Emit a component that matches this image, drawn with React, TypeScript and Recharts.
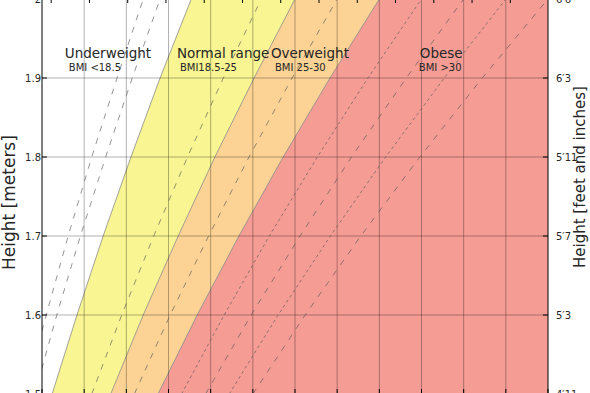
import {
  ComposedChart,
  XAxis,
  YAxis,
  Area,
  Line,
  CartesianGrid,
  ReferenceLine,
  ReferenceDot,
} from 'recharts';

const heights = [1.5, 1.6, 1.7, 1.8, 1.9, 2.0];

// weight in kg along each BMI line, one value per height above
const underweightEdge = [42.4, 48.3, 54.5, 61.1, 68.0, 75.4];
const normalEdge = [56.3, 64.0, 72.3, 81.0, 90.3, 100.0];
const overweightEdge = [67.5, 76.8, 86.7, 97.2, 108.3, 120.0];

const bmi16 = [36.0, 41.0, 46.2, 51.8, 57.8, 64.0];
const bmi17 = [38.3, 43.5, 49.1, 55.1, 61.4, 68.0];
const bmi23 = [51.8, 58.9, 66.5, 74.5, 83.0, 92.0];
const bmi275 = [61.9, 70.4, 79.5, 89.1, 99.3, 110.0];
const bmi325 = [73.1, 83.2, 93.9, 105.3, 117.3, 130.0];
const bmi35 = [78.8, 89.6, 101.2, 113.4, 126.4, 140.0];
const bmi375 = [84.4, 96.0, 108.4, 121.5, 135.4, 150.0];
const bmi40 = [90.0, 102.4, 115.6, 129.6, 144.4, 160.0];

const meterTicks = [1.5, 1.6, 1.7, 1.8, 1.9, 2.0];
const feetLabels = ["4′11", "5′3", "5′7", "5′11", "6′3", "6′6"];
const kgTicks = [40, 50, 60, 70, 80, 90, 100, 110, 120, 130, 140, 150, 160];
const lbTicks = [93, 113, 133, 153, 173, 193, 213, 233, 253, 273, 293, 313, 333];

const categories = ['Underweight', 'Normal range', 'Overweight', 'Obese'];
const categoryBmi = ['BMI <18.5', 'BMI18.5-25', 'BMI 25-30', 'BMI >30'];

const rows = heights.map((h, i) => ({
  h,
  under: underweightEdge[i],
  normal: normalEdge[i],
  over: overweightEdge[i],
  c16: bmi16[i],
  c17: bmi17[i],
  c23: bmi23[i],
  c275: bmi275[i],
  c325: bmi325[i],
  c35: bmi35[i],
  c375: bmi375[i],
  c40: bmi40[i],
}));

const font = 'DejaVu Sans';
const ink = '#262626';

// where each category label sits (kg, m) and how far the BMI line is nudged
const labelSpots = [
  { kg: 45.4, m: 1.925, dx: 4 },
  { kg: 72.0, m: 1.925, dx: 3 },
  { kg: 94.3, m: 1.925, dx: 4 },
  { kg: 129.6, m: 1.925, dx: -1 },
];

const dashed = ['c16', 'c17', 'c23', 'c275', 'c35', 'c40'];
const dotted = ['c325', 'c375'];

const tickStyle = { fontFamily: font, fontSize: 10, fill: ink };
const noLabel = () => <g />;

const axisTitle = (text: string, dx: number, dy: number, size: number) =>
  ({ viewBox }: any) => {
    const x = viewBox.x + dx;
    const y = viewBox.y + dy;
    return (
      <text
        x={x}
        y={y}
        transform={`rotate(-90, ${x}, ${y})`}
        textAnchor="start"
        fontFamily={font}
        fontSize={size}
        fill={ink}
      >
        {text}
      </text>
    );
  };

export default function App() {
  return (
    <div
      style={{
        position: 'absolute',
        left: 0,
        top: 0,
        width: 590,
        height: 393,
        overflow: 'hidden',
        background: '#fff',
      }}
    >
      <div style={{ position: 'absolute', left: 0, top: -21 }}>
        <ComposedChart
          width={590}
          height={445}
          layout="vertical"
          data={rows}
          margin={{ top: 0, right: 0, bottom: 0, left: 0 }}
        >
          <CartesianGrid
            xAxisId="kg"
            yAxisId="m"
            horizontal={false}
            vertical={false}
            fill="#f59c94"
            fillOpacity={1}
          />
          <XAxis
            xAxisId="kg"
            type="number"
            orientation="bottom"
            domain={[40, 160]}
            ticks={kgTicks}
            allowDataOverflow
            height={30}
            tickSize={-5}
            tickMargin={9}
            tick={noLabel}
            axisLine={{ stroke: '#000' }}
            tickLine={{ stroke: '#000' }}
          />
          <XAxis
            xAxisId="lb"
            type="number"
            orientation="top"
            domain={[88.2, 352.7]}
            ticks={lbTicks}
            allowDataOverflow
            height={20}
            tickSize={-4}
            tickMargin={8}
            tick={noLabel}
            axisLine={{ stroke: '#000' }}
            tickLine={{ stroke: '#000' }}
          />
          <YAxis
            yAxisId="m"
            dataKey="h"
            type="number"
            orientation="left"
            reversed
            domain={[1.5, 2.0]}
            ticks={meterTicks}
            allowDataOverflow
            width={42}
            tickSize={-5}
            tickMargin={6}
            tick={tickStyle}
            tickFormatter={(v: number) => (v === 2 ? '2' : v.toFixed(1))}
            axisLine={{ stroke: '#000' }}
            tickLine={{ stroke: '#000' }}
            label={axisTitle('Height [meters]', 15, 271, 17)}
          />
          <YAxis
            yAxisId="ft"
            dataKey="h"
            type="number"
            orientation="right"
            reversed
            domain={[1.5, 2.0]}
            ticks={meterTicks}
            allowDataOverflow
            width={42}
            tickSize={-5}
            tickMargin={13}
            tick={tickStyle}
            tickFormatter={(v: number) => feetLabels[meterTicks.indexOf(v)] ?? ''}
            axisLine={{ stroke: '#000' }}
            tickLine={{ stroke: '#000' }}
            label={axisTitle('Height [feet and inches]', 37, 269, 15)}
          />

          <Area
            xAxisId="kg"
            yAxisId="m"
            dataKey="over"
            type="linear"
            fill="#fcd394"
            fillOpacity={1}
            stroke="#8c8c8c"
            strokeWidth={0.8}
            isAnimationActive={false}
          />
          <Area
            xAxisId="kg"
            yAxisId="m"
            dataKey="normal"
            type="linear"
            fill="#f8f592"
            fillOpacity={1}
            stroke="#8c8c8c"
            strokeWidth={0.8}
            isAnimationActive={false}
          />
          <Area
            xAxisId="kg"
            yAxisId="m"
            dataKey="under"
            type="linear"
            fill="#ffffff"
            fillOpacity={1}
            stroke="#8c8c8c"
            strokeWidth={0.8}
            isAnimationActive={false}
          />

          {kgTicks.slice(1, -1).map((k) => (
            <ReferenceLine
              key={`gx${k}`}
              xAxisId="kg"
              yAxisId="m"
              x={k}
              stroke="#000"
              strokeOpacity={0.3}
              strokeWidth={1}
            />
          ))}
          {meterTicks.slice(1, -1).map((m) => (
            <ReferenceLine
              key={`gy${m}`}
              xAxisId="kg"
              yAxisId="m"
              y={m}
              stroke="#000"
              strokeOpacity={0.3}
              strokeWidth={1}
            />
          ))}

          {dashed.map((k) => (
            <Line
              key={k}
              xAxisId="kg"
              yAxisId="m"
              dataKey={k}
              type="linear"
              dot={false}
              stroke="#555"
              strokeOpacity={0.7}
              strokeWidth={0.9}
              strokeDasharray="6 7"
              isAnimationActive={false}
            />
          ))}
          {dotted.map((k) => (
            <Line
              key={k}
              xAxisId="kg"
              yAxisId="m"
              dataKey={k}
              type="linear"
              dot={false}
              stroke="#555"
              strokeOpacity={0.7}
              strokeWidth={0.9}
              strokeDasharray="3 3"
              isAnimationActive={false}
            />
          ))}

          {categories.map((name, i) => (
            <ReferenceDot
              key={name}
              xAxisId="kg"
              yAxisId="m"
              x={labelSpots[i].kg}
              y={labelSpots[i].m}
              r={0}
              fill="none"
              stroke="none"
              label={({ viewBox }: any) => (
                <g>
                  <text x={viewBox.x} y={viewBox.y} fontFamily={font} fontSize={13.5} fill={ink}>
                    {name}
                  </text>
                  <text
                    x={viewBox.x + labelSpots[i].dx}
                    y={viewBox.y + 12.5}
                    fontFamily={font}
                    fontSize={10}
                    fill={ink}
                  >
                    {categoryBmi[i]}
                  </text>
                </g>
              )}
            />
          ))}
        </ComposedChart>
      </div>
    </div>
  );
}
